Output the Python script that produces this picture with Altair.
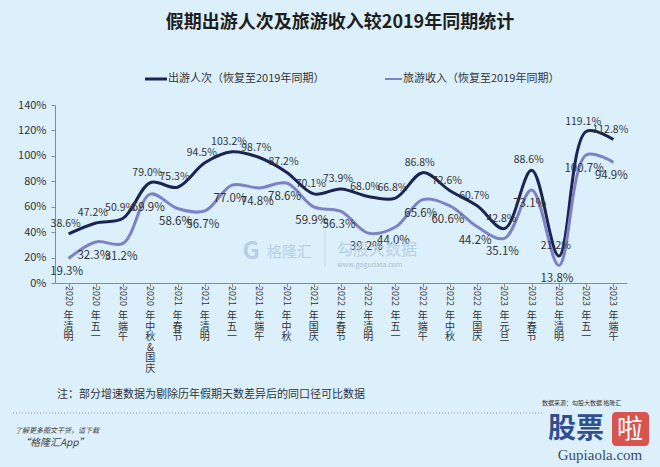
import altair as alt
import pandas as pd

FONT = "Noto Sans CJK SC"

categories = ["2020年清明", "2020年五一", "2020年端午", "2020年中秋&国庆", "2021年春节",
              "2021年清明", "2021年五一", "2021年端午", "2021年中秋", "2021年国庆",
              "2022年春节", "2022年清明", "2022年五一", "2022年端午", "2022年中秋",
              "2022年国庆", "2023年元旦", "2023年春节", "2023年清明", "2023年五一", "2023年端午"]
trips = [38.6, 47.2, 50.9, 79.0, 75.3, 94.5, 103.2, 98.7, 87.2, 70.1, 73.9,
         68.0, 66.8, 86.8, 72.6, 60.7, 42.8, 88.6, 21.2, 119.1, 112.8]
revenue = [19.3, 32.3, 31.2, 69.9, 58.6, 56.7, 77.0, 74.8, 78.6, 59.9, 56.3,
           39.2, 44.0, 65.6, 60.6, 44.2, 35.1, 73.1, 13.8, 100.7, 94.9]
series_names = ["出游人次", "旅游收入"]
series_colors = ["#1b2452", "#7d82c4"]
y_ticks = [0, 20, 40, 60, 80, 100, 120, 140]

df = pd.DataFrame({"cat": categories, "出游人次": trips, "旅游收入": revenue})
df["year"] = df["cat"].str[:4]
df["rest"] = df["cat"].str[4:].apply(lambda s: "\n".join(list(s)))
long = df.melt(id_vars=["cat"], value_vars=series_names, var_name="series", value_name="value")

xenc = alt.X("cat:N", sort=categories,
             scale=alt.Scale(paddingInner=0, paddingOuter=0),
             axis=alt.Axis(labels=False, title=None, bandPosition=0, domainColor="#8a8a8a",
                           tickColor="#8a8a8a", tickSize=4, grid=False))
yenc = alt.Y("value:Q", scale=alt.Scale(domain=[0, 140], nice=False),
             axis=alt.Axis(values=y_ticks, labelExpr="datum.value + '%'", title=None, grid=False,
                           domainColor="#8a8a8a", tickColor="#8a8a8a", tickSize=4,
                           labelFontSize=11, labelColor="#333333", labelPadding=5, labelFont=FONT))
color = alt.Color("series:N", scale=alt.Scale(domain=series_names, range=series_colors), legend=None)

base = alt.Chart(long)
lines = base.mark_line(interpolate="catmull-rom", strokeWidth=3).encode(x=xenc, y=yenc, color=color)

lab_base = base.transform_calculate(label="format(datum.value, '.1f') + '%'")
lab_trips = lab_base.transform_filter("datum.series == '出游人次'").mark_text(
    dy=-10, dx=-3, fontSize=10.5, font=FONT, color="#333333").encode(x=xenc, y=yenc, text="label:N")
lab_rev = lab_base.transform_filter("datum.series == '旅游收入'").mark_text(
    dy=14, dx=-2, fontSize=11.5, font=FONT, color="#333333").encode(x=xenc, y=yenc, text="label:N")

xl = alt.Chart(df)
xl_year = xl.mark_text(angle=90, fontSize=9, font=FONT, color="#333333", align="center",
                       baseline="middle").encode(x=xenc, y=alt.value(191), text="year:N")
xl_rest = xl.mark_text(lineBreak="\n", lineHeight=10.5, fontSize=10, font=FONT, color="#333333",
                       align="center", baseline="top").encode(x=xenc, y=alt.value(206), text="rest:N")

one = alt.Chart(pd.DataFrame({"k": [0]}))

def txt(s, x, y, size=11, color="#333333", align="left", weight="normal", style="normal", opacity=1.0, font=FONT):
    return one.mark_text(fontSize=size, color=color, align=align, baseline="middle", fontWeight=weight,
                         fontStyle=style, opacity=opacity, font=font).encode(
        x=alt.value(x), y=alt.value(y), text=alt.value(s))

title = txt("假期出游人次及旅游收入较2019年同期统计", 285, -82, size=18, color="#1e1e1e", align="center", weight="bold")
leg1_line = one.mark_rule(color=series_colors[0], strokeWidth=3).encode(x=alt.value(90), x2=alt.value(112), y=alt.value(-26))
leg1_txt = txt("出游人次（恢复至2019年同期）", 113, -26, size=11)
leg2_line = one.mark_rule(color=series_colors[1], strokeWidth=2).encode(x=alt.value(330), x2=alt.value(347), y=alt.value(-26))
leg2_txt = txt("旅游收入（恢复至2019年同期）", 348, -26, size=11)

# watermarks
wm_g = txt("G", 196, 147, size=24, color="#b8cfe2", align="center", weight="bold")
wm1 = txt("格隆汇", 212, 147, size=15, color="#b8cfe2")
wm_div = one.mark_rule(color="#c5d8e6", strokeWidth=1).encode(x=alt.value(270), y=alt.value(125), y2=alt.value(162))
wm2 = txt("勾股大数据", 282, 145, size=16, color="#b8cfe2")
wm3 = txt("www.gogudata.com", 282, 160, size=7, color="#a9c0d2")

# footer
note = txt("注：部分增速数据为剔除历年假期天数差异后的同口径可比数据", 2, 290, size=11, color="#333333")
dotted = one.mark_rule(color="#9a9a9a", strokeDash=[1, 2], strokeWidth=1).encode(
    x=alt.value(-42), x2=alt.value(487), y=alt.value(308))
more = txt("了解更多图文干货，请下载", -40, 326, size=7, color="#444444", style="italic")
app = txt("“格隆汇App”", -35, 338, size=10, color="#444444", style="italic")
src = txt("数据来源：勾股大数据  格隆汇", 487, 298, size=6, color="#333333")
logo1 = txt("股票", 521, 325, size=28, color="#2f4f8f", align="center", weight="bold")
logo_box = one.mark_rect(color="#d9534f", cornerRadius=4).encode(
    x=alt.value(557), x2=alt.value(594), y=alt.value(307), y2=alt.value(341))
logo2 = txt("啦", 575, 325, size=26, color="#ffffff", align="center")
logo3 = txt("Gupiaola.com", 545, 350, size=15, color="#3a4a6a", align="center", font="Liberation Serif")

chart = alt.layer(
    lines, lab_trips, lab_rev, xl_year, xl_rest,
    title, leg1_line, leg1_txt, leg2_line, leg2_txt,
    wm_g, wm1, wm_div, wm2, wm3,
    note, dotted, more, app, src, logo_box, logo1, logo2, logo3,
).properties(
    width=572, height=178,
    autosize=alt.AutoSizeParams(type="none"),
    padding={"left": 55, "top": 105, "right": 33, "bottom": 184},
    background="#dcf0fb",
).configure_view(stroke=None)

chart.save("out.html", embed_options={"renderer": "svg", "actions": False})
